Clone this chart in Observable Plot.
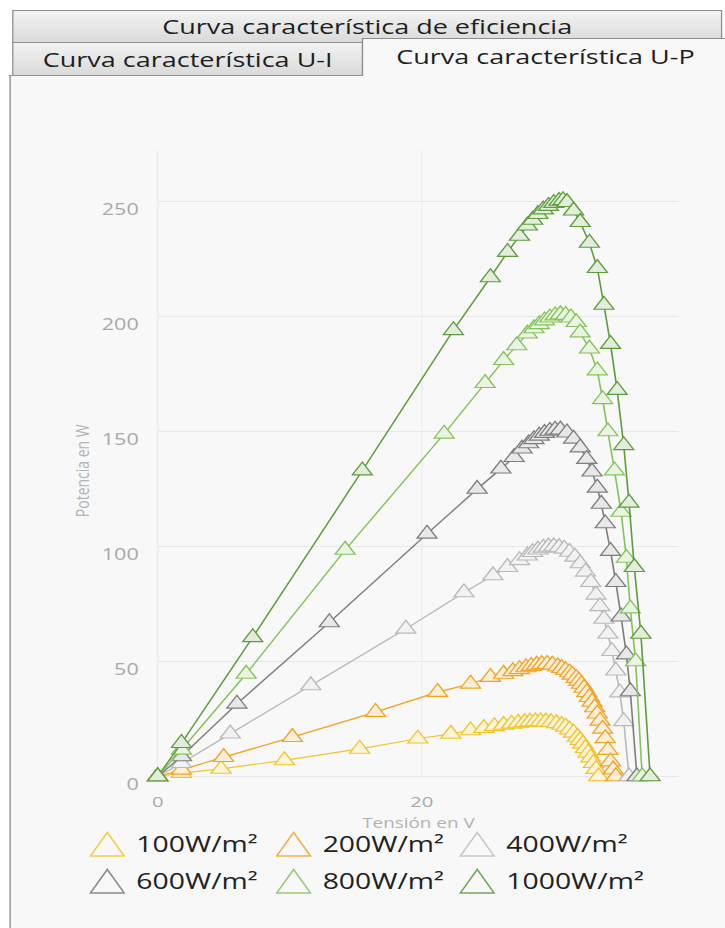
<!DOCTYPE html>
<html><head><meta charset="utf-8">
<script src="https://cdn.jsdelivr.net/npm/d3@7"></script>
<script src="https://cdn.jsdelivr.net/npm/@observablehq/plot@0.6"></script>
<style>
html,body{margin:0;padding:0;background:#fff;overflow:hidden;width:725px;height:928px;}
#stage{position:absolute;left:0;top:0;width:537px;height:928px;transform:scaleX(1.35);transform-origin:0 0;font-family:"Open Sans",sans-serif;}
.tab{position:absolute;box-sizing:border-box;border:1px solid #8f8f8f;background:linear-gradient(#f3f3f3,#dadada);color:#1e1e1e;font-size:20px;display:flex;align-items:center;justify-content:center;white-space:nowrap;}
#panel{position:absolute;left:7px;top:75px;width:540px;height:860px;box-sizing:border-box;background:#f8f8f8;border-left:1px solid #8f8f8f;border-top:1px solid #8f8f8f;}
#sel{background:#f8f8f8;border-bottom:none;}
#chart{position:absolute;left:7px;top:78px;}
.leg{position:absolute;display:flex;align-items:center;font-size:21px;color:#222;white-space:nowrap;height:30px;}
.leg span{line-height:22px;}
.leg svg{margin-right:8px;}
</style></head>
<body>
<div id="stage">
  <div id="panel"></div>
  <div class="tab" style="left:9px;top:10px;width:526px;height:33px;">Curva característica de eficiencia</div>
  <div class="tab" style="left:9px;top:42px;width:260px;height:34px;">Curva característica U-I</div>
  <div class="tab" id="sel" style="left:268px;top:38px;width:272px;height:38px;padding-bottom:2px;">Curva característica U-P</div>
  <div id="chart"></div>
  <div id="legend"></div>
</div>
<script>
const series = ["100W/m²", "200W/m²", "400W/m²", "600W/m²", "800W/m²", "1000W/m²"];
const colors = ["#f3c42a", "#f2a224", "#b9b9b9", "#7e7e7e", "#86c25c", "#5f9c3e"];
const legendColors = ["#f3cd45", "#f3ae4a", "#c8c8c8", "#8a8a8a", "#96c977", "#74a85a"];

const u100 = [0, 1.8, 4.8, 9.6, 15.3, 19.7, 22.2, 23.7, 24.7, 25.5, 26.2, 26.8, 27.3, 27.8, 28.2, 28.6, 29.0, 29.4, 29.8, 30.2, 30.6, 30.9, 31.2, 31.5, 31.8, 32.0, 32.2, 32.4, 32.6, 32.8, 33.0, 33.2, 33.4];
const p100 = [0, 1.5, 3.3, 7.0, 12.0, 16.4, 18.5, 20.0, 21.0, 21.8, 22.4, 22.9, 23.3, 23.6, 23.8, 23.9, 23.9, 23.8, 23.6, 23.1, 22.4, 21.6, 20.4, 19.0, 17.2, 15.8, 14.2, 12.3, 10.3, 8.2, 5.8, 3.2, 0];

const u200 = [0, 1.8, 5.0, 10.2, 16.5, 21.2, 23.7, 25.2, 26.2, 26.9, 27.4, 27.9, 28.3, 28.7, 29.1, 29.5, 29.9, 30.3, 30.6, 30.9, 31.2, 31.4, 31.7, 31.9, 32.1, 32.3, 32.5, 32.7, 32.9, 33.1, 33.3, 33.5, 33.7, 33.9, 34.1, 34.3, 34.5, 34.7];
const p200 = [0, 2.9, 8.4, 17.1, 28.0, 36.7, 40.3, 43.2, 44.6, 45.7, 46.6, 47.4, 48.0, 48.5, 48.8, 48.9, 48.6, 47.8, 47.1, 46.2, 45.2, 44.2, 42.8, 41.6, 40.2, 38.5, 36.6, 34.5, 32.4, 30.0, 27.3, 24.2, 20.7, 16.6, 11.5, 6.5, 3.0, 0];

const u400 = [0, 1.8, 5.5, 11.6, 18.8, 23.2, 25.4, 26.5, 27.4, 28.0, 28.4, 28.8, 29.2, 29.6, 30.0, 30.4, 30.8, 31.2, 31.6, 32.0, 32.4, 32.8, 33.2, 33.5, 33.8, 34.1, 34.4, 34.7, 35.0, 35.3, 35.7];
const p400 = [0, 5.8, 18.6, 39.6, 64.2, 80.0, 87.4, 91.0, 94.0, 96.0, 97.5, 98.6, 99.4, 99.9, 100.0, 99.7, 99.0, 97.6, 95.5, 92.6, 89.0, 84.5, 79.0, 74.0, 68.5, 62.0, 54.5, 46.0, 36.5, 24.0, 0];

const u600 = [0, 1.8, 6.0, 13.0, 20.4, 24.2, 26.0, 27.0, 27.6, 28.1, 28.5, 28.9, 29.3, 29.7, 30.1, 30.5, 31.0, 31.5, 32.0, 32.5, 32.9, 33.3, 33.6, 33.9, 34.3, 34.7, 35.1, 35.5, 35.8, 36.3];
const p600 = [0, 8.7, 31.6, 67.0, 105.5, 125.0, 133.8, 138.8, 142.5, 144.8, 146.6, 148.1, 149.3, 150.2, 150.7, 150.8, 149.5, 146.8, 143.0, 138.0, 132.5, 125.5, 118.5, 110.0, 98.0, 84.5, 69.5, 53.0, 37.0, 0];

const u800 = [0, 1.8, 6.7, 14.2, 21.7, 24.8, 26.2, 27.2, 28.0, 28.5, 28.9, 29.3, 29.7, 30.1, 30.5, 30.9, 31.3, 31.7, 32.0, 32.7, 33.3, 33.7, 34.1, 34.6, 35.1, 35.5, 35.8, 36.2, 36.7];
const p800 = [0, 11.6, 44.6, 98.5, 149.0, 171.0, 181.0, 187.4, 192.5, 194.8, 196.6, 198.2, 199.5, 200.4, 200.9, 200.6, 199.5, 197.5, 193.0, 186.0, 176.5, 164.0, 150.0, 133.0, 115.0, 95.0, 73.0, 50.0, 0];

const u1000 = [0, 1.8, 7.2, 15.5, 22.4, 25.2, 26.5, 27.4, 28.0, 28.4, 28.8, 29.2, 29.6, 30.0, 30.4, 30.7, 31.0, 31.5, 32.0, 32.7, 33.3, 33.8, 34.3, 34.8, 35.3, 35.7, 36.1, 36.6, 37.3];
const p1000 = [0, 14.5, 60.5, 133.0, 194.0, 217.0, 228.0, 235.0, 239.5, 242.0, 244.5, 246.5, 248.0, 249.3, 250.2, 250.5, 249.7, 246.0, 241.0, 232.0, 221.0, 205.0, 188.0, 168.0, 144.0, 119.0, 91.0, 62.0, 0];

const xTicks = [0, 20];
const yTicks = [0, 50, 100, 150, 200, 250];

const us = [u100, u200, u400, u600, u800, u1000];
const ps = [p100, p200, p400, p600, p800, p1000];
const rows = series.map((s, i) => us[i].map((u, j) => ({series: s, u, p: ps[i][j]})));
const fills = colors.map(c => d3.interpolateRgb(c, "#ffffff")(0.82));

const marks = [
  Plot.gridY(yTicks, {stroke: "#e8e8e8", strokeOpacity: 1}),
  Plot.gridX(xTicks, {stroke: "#ececec", strokeOpacity: 1}),
  Plot.axisY({ticks: yTicks, tickSize: 0, tickPadding: 14, dy: 8, label: null, color: "#a9a9a9", fontSize: 16}),
  Plot.axisX({ticks: xTicks, tickSize: 0, tickPadding: 20, label: null, color: "#a9a9a9", fontSize: 15}),
  Plot.text(["Tensión en V"], {frameAnchor: "bottom", dy: 47, fill: "#b3b3b3", fontSize: 14, textAnchor: "middle", lineAnchor: "middle"}),
  Plot.text(["Potencia en W"], {frameAnchor: "left", dx: -55, dy: 7, rotate: -90, fill: "#b3b3b3", fontSize: 14, textAnchor: "middle", lineAnchor: "middle"})
];
rows.forEach((r, i) => {
  marks.push(Plot.line(r, {x: "u", y: "p", stroke: colors[i], strokeWidth: 1.2}));
  marks.push(Plot.dot(r, {x: "u", y: "p", symbol: "triangle", r: 5.5, stroke: colors[i], fill: fills[i], strokeWidth: 1.1}));
});

const chart = Plot.plot({
  width: 530, height: 760,
  marginLeft: 109.3, marginRight: 34.4, marginTop: 72.4, marginBottom: 62,
  x: {domain: [0, 39.5]},
  y: {domain: [0, 272]},
  style: {background: "transparent", fontFamily: "'Open Sans', sans-serif", fontSize: "16px"},
  marks
});
document.getElementById("chart").appendChild(chart);

// legend
const legPos = [[66, 829], [204, 829], [340, 829], [66, 866], [204, 866], [340, 866]];
const leg = document.getElementById("legend");
series.forEach((s, i) => {
  const d = document.createElement("div");
  d.className = "leg";
  d.style.left = legPos[i][0] + "px";
  d.style.top = legPos[i][1] + "px";
  d.innerHTML = `<svg width="27" height="26" viewBox="0 0 27 26"><polygon points="1,25 13.5,1.5 26,25" fill="none" stroke="${legendColors[i]}" stroke-width="1.3"/></svg><span>${s}</span>`;
  leg.appendChild(d);
});
</script>
</body></html>
